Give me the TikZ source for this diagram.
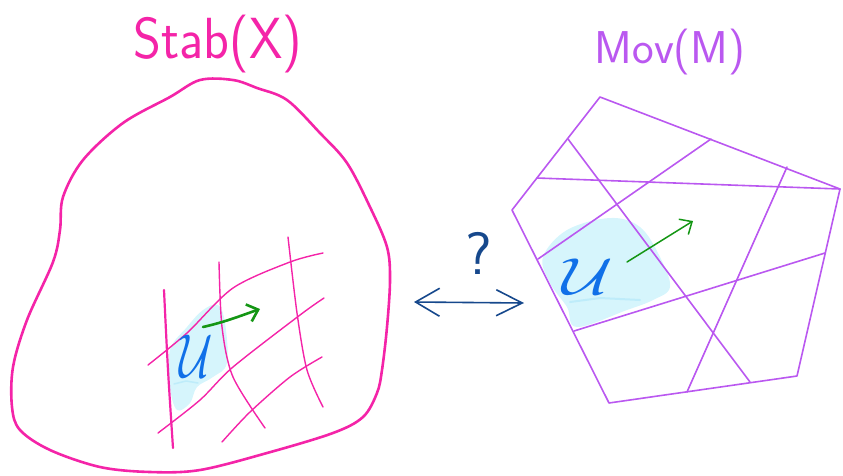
\documentclass[tikz,border=0pt]{standalone}
\usetikzlibrary{arrows.meta}
\definecolor{hpink}{RGB}{244,36,168}
\definecolor{hpurple}{RGB}{186,88,240}
\definecolor{hblue}{RGB}{16,112,232}
\definecolor{hfill}{RGB}{214,245,252}
\definecolor{hfilldark}{RGB}{190,236,250}
\definecolor{hgreen}{RGB}{20,150,20}
\definecolor{hnavy}{RGB}{22,72,140}
\tikzset{
  outline/.style={draw=hpink, line width=2.6pt},
  gridline/.style={draw=hpink, line width=1.4pt},
  polyline/.style={draw=hpurple, line width=1.6pt},
  blob/.style={fill=hfill, draw=none},
  utext/.style={text=hblue, inner sep=0pt},
  flowarrow/.style={draw=hgreen, -{Straight Barb[length=10pt,width=18pt]}},
}
\begin{document}
\begin{tikzpicture}[x=1pt,y=-1pt, line cap=round, line join=round]
\useasboundingbox (0,0) rectangle (843,475);

% titles
\node[anchor=base, text=hpink, font=\fontsize{58}{58}\selectfont\sffamily, inner sep=0pt] (stab) at (218,58) {\scalebox{0.92}[1]{Stab(X)}};
\node[anchor=base, text=hpurple, font=\fontsize{46}{46}\selectfont\sffamily, inner sep=0pt] (mov) at (670,63) {Mov(M)};

% left big outline
\draw[outline] plot[smooth cycle, tension=0.55] coordinates {
 (200,80) (233,80) (257,88) (287,100) (320,133) (347,163) (370,207) (387,247)
 (390,280) (387,327) (382,370) (377,393) (363,417) (333,433) (267,453) (200,470)
 (150,472) (100,467) (50,450) (20,430) (12,407) (13,367) (27,320) (53,262)
 (60,230) (63,197) (83,160) (123,123) (170,97)};

% left blob
\fill[blob] plot[smooth cycle, tension=0.6] coordinates {
 (218,305) (225,323) (227,363) (213,377) (197,387) (190,403) (177,410)
 (170,387) (170,350) (187,327) (203,310)};
\draw[hfilldark, line width=1.5pt] (174,384) -- (186,381) -- (198,383);

% left grid
\draw[gridline, line width=2.2pt] plot[smooth] coordinates {(164,290) (168,370) (173,448)};
\draw[gridline] plot[smooth] coordinates {(219,262) (222,327) (233,377) (265,428)};
\draw[gridline] plot[smooth] coordinates {(288,237) (297,313) (307,370) (323,407)};
\draw[gridline] plot[smooth] coordinates {(148,365) (187,333) (233,288) (290,262) (323,253)};
\draw[gridline] plot[smooth] coordinates {(158,433) (200,400) (233,367) (300,315) (324,298)};
\draw[gridline] plot[smooth] coordinates {(222,442) (250,412) (290,377) (322,357)};

\node[utext] (uleft) at (196,356) {\scalebox{4.6}[6.2]{$\mathcal{U}$}};
\coordinate (gl1) at (203,327);
\coordinate (gl2) at (260,309);
\draw[flowarrow, line width=2.6pt] (gl1) .. controls (225,322) and (240,316) .. (gl2);

% middle
\node[text=hnavy, font=\fontsize{60}{60}\selectfont\sffamily, anchor=base, inner sep=0pt] (qm) at (479,274) {?};
\coordinate (ml) at (414,302);
\coordinate (mr) at (524,303);
\draw[hnavy, line width=1.6pt, {Straight Barb[length=24pt,width=28pt]}-{Straight Barb[length=26pt,width=26pt]}] (ml) -- (mr);

% right polygon
\coordinate (p1) at (600,97);
\coordinate (p2) at (840,189);
\coordinate (p3) at (797,376);
\coordinate (p4) at (609,403);
\coordinate (p5) at (512,210);

\fill[blob] plot[smooth cycle, tension=0.6] coordinates {
 (543,257) (567,230) (610,218) (640,227) (660,257) (670,287) (653,300)
 (627,310) (577,327) (567,307) (550,283)};
\draw[hfilldark, line width=2pt] (570,302) -- (600,298) -- (640,300);

\draw[polyline] (p1) -- (p2) -- (p3) -- (p4) -- (p5) -- cycle;
\draw[polyline] (568,139) -- (750,382);
\draw[polyline] (537,178) -- (p2);
\draw[polyline] (711,139) -- (538,259);
\draw[polyline] (787,167) -- (687,392);
\draw[polyline] (825,253) -- (574,331);

\node[utext] (uright) at (588,277) {\scalebox{7}[5.2]{$\mathcal{U}$}};
\coordinate (gr1) at (627,262);
\coordinate (gr2) at (693,221);
\draw[flowarrow, line width=1.5pt] (gr1) -- (gr2);
\end{tikzpicture}
\end{document}
